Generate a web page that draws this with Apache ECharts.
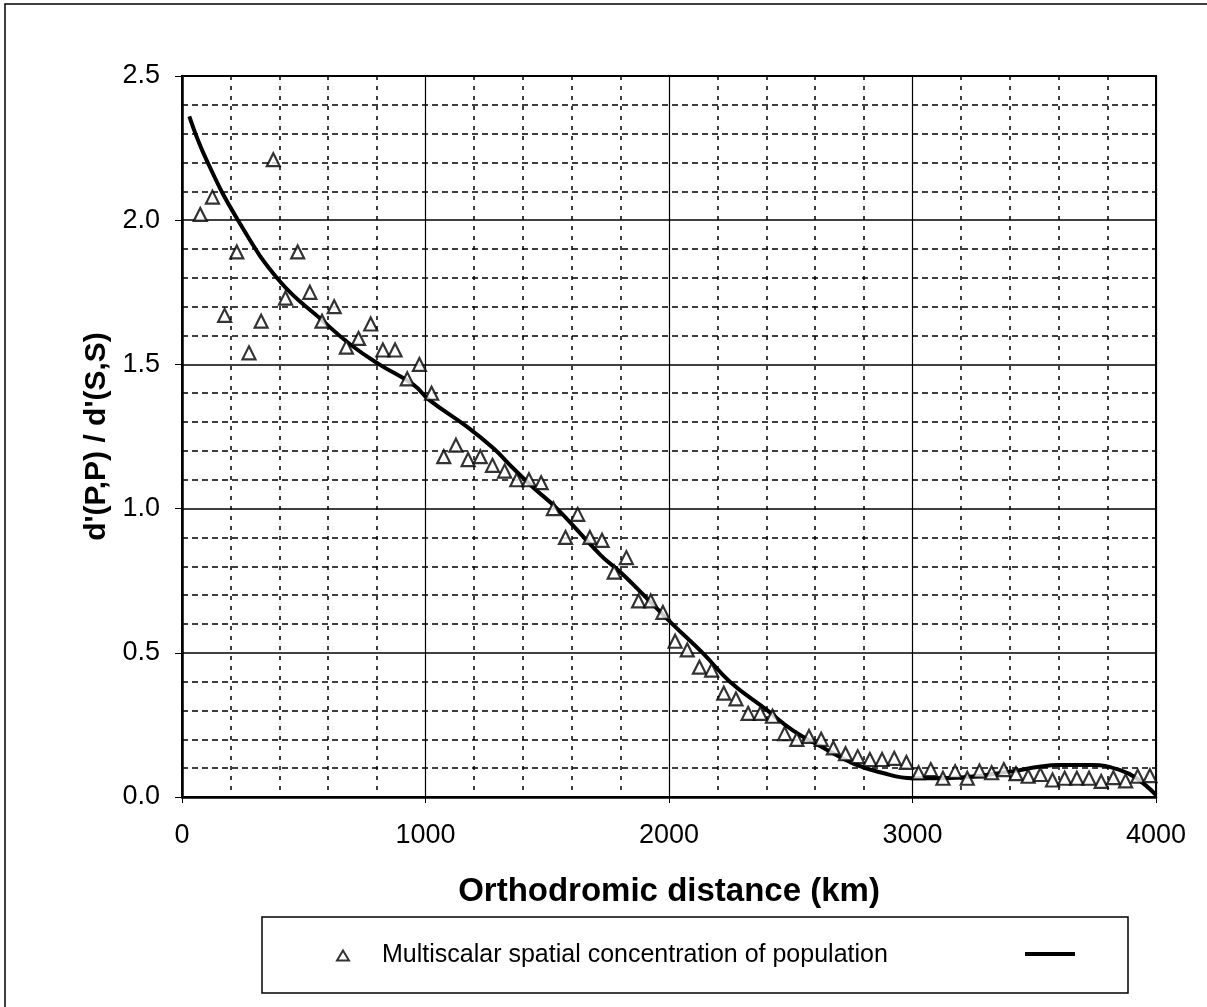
<!DOCTYPE html>
<html>
<head>
<meta charset="utf-8">
<script src="https://cdn.jsdelivr.net/npm/echarts@6/dist/echarts.min.js"></script>
<style>
  html, body { margin: 0; padding: 0; background: #fff; }
  #chart { width: 1207px; height: 1007px; }
</style>
</head>
<body>
<div id="chart"></div>
<script>
// distances (km) of the triangles, 50 km steps
let distKm = [];
for (let d = 75; d <= 3975; d += 50) distKm.push(d);

// multiscalar spatial concentration
let concValues = [
    2.02, 2.08, 1.67, 1.89, 1.54, 1.65, 2.21, 1.73, 1.89, 1.75,
    1.65, 1.70, 1.56, 1.59, 1.64, 1.55, 1.55, 1.45, 1.50, 1.40,
    1.18, 1.22, 1.17, 1.18, 1.15, 1.13, 1.10, 1.10, 1.09, 1.00,
    0.90, 0.98, 0.90, 0.89, 0.78, 0.83, 0.68, 0.68, 0.64, 0.54,
    0.51, 0.45, 0.44, 0.36, 0.34, 0.29, 0.29, 0.28, 0.22, 0.20,
    0.21, 0.20, 0.17, 0.15, 0.14, 0.13, 0.13, 0.134, 0.12, 0.084,
    0.095, 0.065, 0.088, 0.065, 0.09, 0.084, 0.095, 0.081, 0.072, 0.078,
    0.059, 0.065, 0.065, 0.065, 0.054, 0.067, 0.056, 0.072, 0.074
];

// fitted curve
let curveKm = [30, 100, 230, 400, 580, 690, 810, 950, 1015, 1170, 1280, 1360, 1440, 1540,
    1720, 1800, 1910, 2010, 2140, 2250, 2400, 2510, 2620, 2760, 2870, 3000, 3200, 3400, 3520, 3600,
    3740, 3850, 3920, 4000];
let curveValues = [2.36, 2.21, 2.00, 1.79, 1.65, 1.57, 1.50, 1.43, 1.377, 1.284, 1.208, 1.14, 1.075, 1.00,
    0.838, 0.78, 0.688, 0.603, 0.498, 0.40, 0.303, 0.23, 0.177, 0.115, 0.085, 0.065, 0.068, 0.088, 0.105, 0.111,
    0.111, 0.094, 0.065, 0.007];

let xTicks = [0, 1000, 2000, 3000, 4000];
let yTicks = [0, 0.5, 1.0, 1.5, 2.0, 2.5];

let font = 'Liberation Sans';

let option = {
    backgroundColor: '#fff',
    animation: false,
    grid: {
        left: 182,
        right: 51,
        top: 76,
        bottom: 210,
        show: true,
        borderColor: '#000',
        borderWidth: 2,
        backgroundColor: 'transparent'
    },
    xAxis: {
        type: 'value',
        min: xTicks[0],
        max: xTicks[xTicks.length - 1],
        interval: 1000,
        name: 'Orthodromic distance (km)',
        nameLocation: 'middle',
        nameGap: 78,
        nameTextStyle: { fontFamily: font, fontSize: 33, fontWeight: 'bold', color: '#000' },
        axisLine: { lineStyle: { color: '#000', width: 2.5 } },
        axisTick: { show: true, length: 6, lineStyle: { color: '#000' } },
        axisLabel: {
            fontFamily: font, fontSize: 27, color: '#000', margin: 25,
            formatter: v => String(v)
        },
        splitLine: { show: true, lineStyle: { color: '#000', width: 1.2 } },
        minorTick: { show: false, splitNumber: 5 },
        minorSplitLine: { show: true, lineStyle: { color: '#000', width: 1.5, type: [4, 6] } }
    },
    yAxis: {
        type: 'value',
        min: yTicks[0],
        max: yTicks[yTicks.length - 1],
        interval: 0.5,
        name: "d'(P,P) / d'(S,S)",
        nameLocation: 'middle',
        nameGap: 68,
        nameTextStyle: { fontFamily: font, fontSize: 30, fontWeight: 'bold', color: '#000' },
        axisLine: { show: true, lineStyle: { color: '#000', width: 2.5 } },
        axisTick: { show: true, length: 7, lineStyle: { color: '#000' } },
        axisLabel: {
            fontFamily: font, fontSize: 27, color: '#000', margin: 22,
            formatter: v => v.toFixed(1)
        },
        splitLine: { show: true, lineStyle: { color: '#000', width: 1.5 } },
        minorTick: { show: false, splitNumber: 5 },
        minorSplitLine: { show: true, lineStyle: { color: '#000', width: 1.5, type: [6, 4] } }
    },
    legend: [
        {
            data: ['Multiscalar spatial concentration of population'],
            left: 331,
            top: 938,
            itemWidth: 12,
            itemHeight: 10,
            itemGap: 0,
            textStyle: { fontFamily: font, fontSize: 25, color: '#000', padding: [0, 0, 0, 28] }
        },
        {
            data: [{ name: ' ', icon: 'rect' }],
            left: 1020,
            top: 944,
            itemWidth: 50,
            itemHeight: 4,
            itemStyle: { color: '#000' },
            textStyle: { fontSize: 10 }
        }
    ],
    graphic: [
        {
            type: 'rect',
            shape: { x: 5, y: 4, width: 1215, height: 1020 },
            style: { fill: 'none', stroke: '#000', lineWidth: 1.5 },
            silent: true
        },
        {
            type: 'rect',
            shape: { x: 262, y: 917, width: 866, height: 76 },
            style: { fill: 'none', stroke: '#000', lineWidth: 1.5 },
            silent: true
        }
    ],
    series: [
        {
            name: ' ',
            type: 'line',
            data: curveKm.map((d, i) => [d, curveValues[i]]),
            smooth: 0.45,
            symbol: 'none',
            color: '#000',
            lineStyle: { color: '#000', width: 4 },
            z: 3
        },
        {
            name: 'Multiscalar spatial concentration of population',
            type: 'scatter',
            data: distKm.map((d, i) => [d, concValues[i]]),
            symbol: 'triangle',
            symbolSize: 13,
            itemStyle: { color: '#fff', borderColor: '#000', borderWidth: 2.2 },
            z: 4
        }
    ]
};

let chart = echarts.init(document.getElementById('chart'), null, { renderer: 'canvas' });
chart.setOption(option);
</script>
</body>
</html>
